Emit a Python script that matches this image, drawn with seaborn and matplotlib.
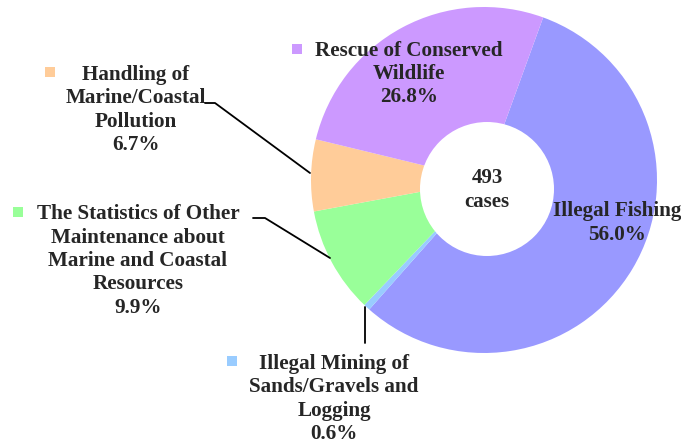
import matplotlib
matplotlib.use("Agg")
import matplotlib.pyplot as plt
import seaborn as sns
from matplotlib.patches import Circle, Rectangle

# Data (cases by category, clockwise from the top)
categories = ["Illegal Fishing",
              "Illegal Mining of\nSands/Gravels and\nLogging",
              "The Statistics of Other\nMaintenance about\nMarine and Coastal\nResources",
              "Handling of\nMarine/Coastal\nPollution",
              "Rescue of Conserved\nWildlife"]
cases = [276, 3, 49, 33, 132]
colors = ["#9999ff", "#99ccff", "#99ff99", "#ffcc99", "#cc99ff"]
total_label = "493\ncases"

W, H = 681, 448

sns.set_style("white")
plt.rcParams['font.family'] = ['Liberation Serif', 'DejaVu Serif']
plt.rcParams['font.weight'] = 'bold'

fig = plt.figure(figsize=(W / 100, H / 100), dpi=100)
ax = fig.add_axes([0, 0, 1, 1])


def Y(y):
    return H - y


ax.pie(cases, colors=sns.color_palette(colors), startangle=70, counterclock=False,
       center=(484, Y(180)), radius=173, frame=True,
       wedgeprops=dict(linewidth=0))
ax.set_xlim(0, W)
ax.set_ylim(0, H)
ax.set_aspect('equal')
ax.axis('off')

# hole
ax.add_patch(Circle((487, Y(189)), 67, facecolor='white', edgecolor='none', zorder=3))
ax.text(487, Y(190), total_label, ha='center', va='center', fontsize=15,
        fontweight='bold', linespacing=1.22, zorder=4)

total = sum(cases)
pcts = [f"{100 * c / total:.1f}%" for c in cases]

# label block centre (x, y), marker position
label_pos = [(617, 223, None),
             (334, 399, (232, 361)),
             (138, 261, (18, 212)),
             (136, 110, (50, 72)),
             (409, 74, (297, 49))]

fs = 15.2
for name, pct, col, (lx, ly, mk) in zip(categories, pcts, colors, label_pos):
    txt = name + "\n" + pct
    ax.text(lx, Y(ly), txt, ha='center', va='center', fontsize=fs, fontweight='bold',
            linespacing=1.22, zorder=5)
    if mk is not None:
        ax.add_patch(Rectangle((mk[0] - 5, Y(mk[1]) - 5), 10, 10, facecolor=col,
                               edgecolor='none', zorder=5))

# leader lines
ax.plot([205, 215, 310], [Y(103), Y(103), Y(173)], color='black', lw=1.3, zorder=6)
ax.plot([253, 265, 330], [Y(218), Y(218), Y(258)], color='black', lw=1.3, zorder=6)
ax.plot([365, 365], [Y(307), Y(343)], color='black', lw=1.3, zorder=6)

fig.savefig("out.png", dpi=100)
